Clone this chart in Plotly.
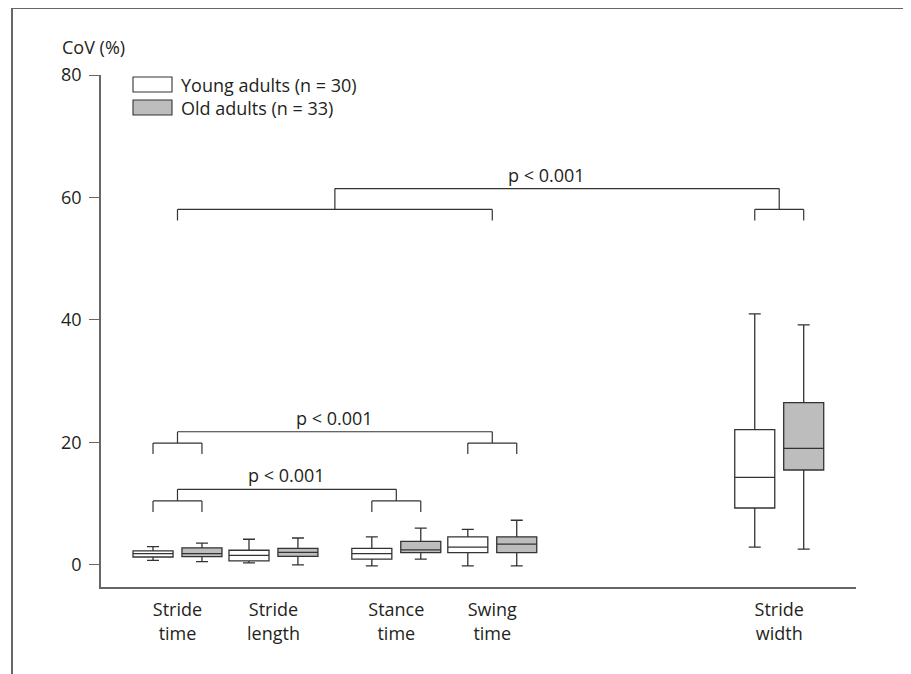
import plotly.graph_objects as go

# ---------------- data ----------------
categories = ["Stride<br>time", "Stride<br>length", "Stance<br>time", "Swing<br>time", "Stride<br>width"]
group_pos = [1.0, 2.0, 3.28, 4.28, 7.27]

young_upper = [3.0, 4.2, 4.6, 5.8, 41.0]
young_q3 = [2.3, 2.4, 2.7, 4.6, 22.1]
young_median = [1.85, 1.55, 1.85, 2.9, 14.3]
young_q1 = [1.3, 0.65, 0.95, 2.0, 9.3]
young_lower = [0.75, 0.35, -0.15, -0.15, 2.9]

old_upper = [3.55, 4.4, 6.0, 7.3, 39.2]
old_q3 = [2.8, 2.7, 3.85, 4.6, 26.5]
old_median = [1.85, 2.05, 2.45, 3.4, 19.05]
old_q1 = [1.35, 1.4, 2.0, 2.0, 15.5]
old_lower = [0.55, 0.0, 0.95, -0.15, 2.6]

y_ticks = [0, 20, 40, 60, 80]
legend_labels = ["Young adults (n = 30)", "Old adults (n = 33)"]
p_text = "p < 0.001"

# ---------------- styling ----------------
OFF = 0.255
BOX_W = 0.417
LINE_C = "#333333"
AX_C = "#666666"
TXT_C = "#231f20"
OLD_FILL = "#bdbdbd"
FONT = "Open Sans"
FS = 18

PAGE_OFF = 8  # default body margin of the html page
W, H = 911 - PAGE_OFF, 674 - PAGE_OFF
# plot area in window pixels: x 101..856, y 75..587
L, R = 101 - PAGE_OFF, 911 - 856
T, B = 75 - PAGE_OFF, 674 - 587
PW, PH = W - L - R, H - T - B


def px(xp):
    return (xp - PAGE_OFF - L) / PW


def py(yp):
    return (H - B - (yp - PAGE_OFF)) / PH


fig = go.Figure()
fig.add_trace(go.Box(
    x=[p - OFF for p in group_pos], q1=young_q1, median=young_median, q3=young_q3,
    lowerfence=young_lower, upperfence=young_upper, width=BOX_W, whiskerwidth=0.3,
    fillcolor="white", line=dict(color=LINE_C, width=1.3), boxpoints=False,
    name=legend_labels[0], showlegend=False, hoverinfo="skip"))
fig.add_trace(go.Box(
    x=[p + OFF for p in group_pos], q1=old_q1, median=old_median, q3=old_q3,
    lowerfence=old_lower, upperfence=old_upper, width=BOX_W, whiskerwidth=0.3,
    fillcolor=OLD_FILL, line=dict(color=LINE_C, width=1.3), boxpoints=False,
    name=legend_labels[1], showlegend=False, hoverinfo="skip"))

shapes = []


def seg(x0, y0, x1, y1, ref="data", color=LINE_C, w=1.2):
    r = ("x", "y") if ref == "data" else ("paper", "paper")
    shapes.append(dict(type="line", xref=r[0], yref=r[1], x0=x0, y0=y0, x1=x1, y1=y1,
                       line=dict(color=color, width=w)))


DROP = 1.8


def sub_bracket(gi, h):
    a, b = group_pos[gi] - OFF, group_pos[gi] + OFF
    seg(a, h, b, h)
    seg(a, h, a, h - DROP)
    seg(b, h, b, h - DROP)


def span_bracket(xa, xb, top, sub):
    seg(xa, top, xb, top)
    seg(xa, top, xa, sub)
    seg(xb, top, xb, sub)


# Stride time vs Stance time
sub_bracket(0, 10.45)
sub_bracket(2, 10.45)
span_bracket(group_pos[0], group_pos[2], 12.35, 10.45)
# Stride time vs Swing time
sub_bracket(0, 19.9)
sub_bracket(3, 19.9)
span_bracket(group_pos[0], group_pos[3], 21.75, 19.9)
# first four parameters vs Stride width
left_a, left_b = group_pos[0], group_pos[3]
seg(left_a, 58.05, left_b, 58.05)
seg(left_a, 58.05, left_a, 58.05 - DROP)
seg(left_b, 58.05, left_b, 58.05 - DROP)
sub_bracket(4, 58.05)
mid_left = (left_a + left_b) / 2
span_bracket(mid_left, group_pos[4], 61.45, 58.05)

tf = dict(size=FS, color=TXT_C, family=FONT)
annotations = [
    dict(x=(group_pos[0] + group_pos[2]) / 2, y=12.35, xref="x", yref="y", text=p_text,
         showarrow=False, yanchor="bottom", yshift=0, font=tf),
    dict(x=(group_pos[0] + group_pos[3]) / 2, y=21.75, xref="x", yref="y", text=p_text,
         showarrow=False, yanchor="bottom", yshift=0, font=tf),
    dict(x=4.85, y=61.45, xref="x", yref="y", text=p_text,
         showarrow=False, yanchor="bottom", yshift=0, font=tf),
    dict(x=px(60), y=py(47), xref="paper", yref="paper", text="CoV (%)", showarrow=False,
         xanchor="left", yanchor="middle", font=tf),
    dict(x=px(179), y=py(85), xref="paper", yref="paper", text=legend_labels[0], showarrow=False,
         xanchor="left", yanchor="middle", font=tf),
    dict(x=px(179), y=py(108), xref="paper", yref="paper", text=legend_labels[1], showarrow=False,
         xanchor="left", yanchor="middle", font=tf),
]

# legend swatches
shapes.append(dict(type="rect", xref="paper", yref="paper", x0=px(133), x1=px(172), y0=py(92), y1=py(77),
                   line=dict(color=LINE_C, width=1.1), fillcolor="white"))
shapes.append(dict(type="rect", xref="paper", yref="paper", x0=px(133), x1=px(172), y0=py(115), y1=py(100),
                   line=dict(color=LINE_C, width=1.1), fillcolor=OLD_FILL))

# outer frame
seg(px(12), py(8), px(907), py(8), ref="paper", color=AX_C, w=2)
seg(px(12), py(8), px(12), py(680), ref="paper", color=AX_C, w=2)
seg(px(907), py(8), px(907), py(680), ref="paper", color=AX_C, w=2)

fig.update_layout(
    width=W, height=H,
    margin=dict(l=L, r=R, t=T, b=B, pad=0),
    paper_bgcolor="white", plot_bgcolor="white",
    boxmode="overlay",
    font=dict(family=FONT, size=FS, color=TXT_C),
    shapes=shapes, annotations=annotations,
    xaxis=dict(range=[0.203, 8.07], showgrid=False, zeroline=False, showline=True,
               linecolor=AX_C, linewidth=1.5, tickmode="array", tickvals=group_pos,
               ticktext=categories, ticks="", ticklabelstandoff=6,
               tickfont=dict(size=18, color=TXT_C, family=FONT)),
    yaxis=dict(range=[-3.6, 80], showgrid=False, zeroline=False, showline=True,
               linecolor=AX_C, linewidth=1.5, tickmode="array", tickvals=y_ticks,
               ticks="outside", ticklen=10, tickcolor=AX_C, tickwidth=1.2,
               ticklabelstandoff=4, tickfont=tf),
)

fig.write_html("out.html")
